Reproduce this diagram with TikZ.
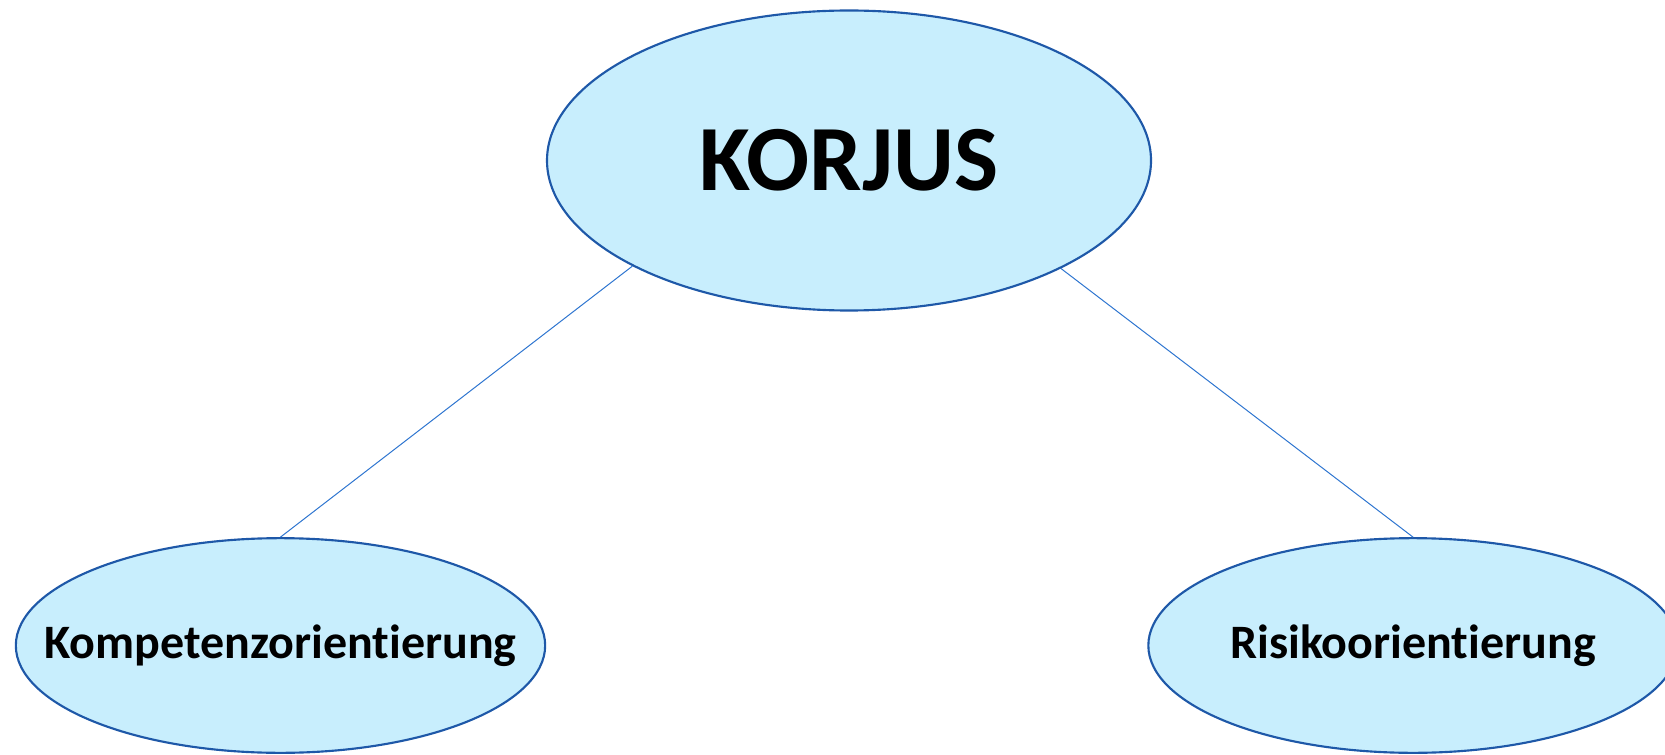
\documentclass[tikz,border=0pt]{standalone}
\usepackage{fontspec}
\setmainfont[Ligatures=NoCommon]{Carlito}
\usepackage{xcolor}
\usetikzlibrary{shapes}
\usetikzlibrary{arrows.meta, positioning}

\definecolor{ovalfill}{RGB}{200,238,253}
\definecolor{ovaldraw}{RGB}{30,88,168}
\definecolor{linkblue}{RGB}{46,117,208}

\tikzset{
  oval/.style={ellipse, draw=ovaldraw, fill=ovalfill, line width=1.6pt, inner sep=0pt},
  link/.style={draw=linkblue, line width=0.75pt},
}

\begin{document}
\begin{tikzpicture}[x=0.75pt,y=0.75pt,yscale=-1,xscale=1]
\useasboundingbox (0,0) rectangle (1665,755);

% Ellipse Nodes
\node [oval, minimum width=453pt, minimum height=225pt,
  label={[font=\bfseries\fontsize{70}{84}\selectfont]center:KORJUS}] (korjus) at (849,160.5) {};
\node [oval, minimum width=397pt, minimum height=161pt,
  label={[font=\bfseries\fontsize{36}{43}\selectfont]center:Kompetenzorientierung}] (kompetenz) at (280.5,645.5) {};
\node [oval, minimum width=397pt, minimum height=161pt,
  label={[font=\bfseries\fontsize{36}{43}\selectfont]center:Risikoorientierung}] (risiko) at (1413,645.5) {};

%Straight Lines
\draw [link] (korjus.206.35) -- (kompetenz.north);
%Straight Lines
\draw [link] (korjus.333.65) -- (risiko.north);

\end{tikzpicture}
\end{document}
